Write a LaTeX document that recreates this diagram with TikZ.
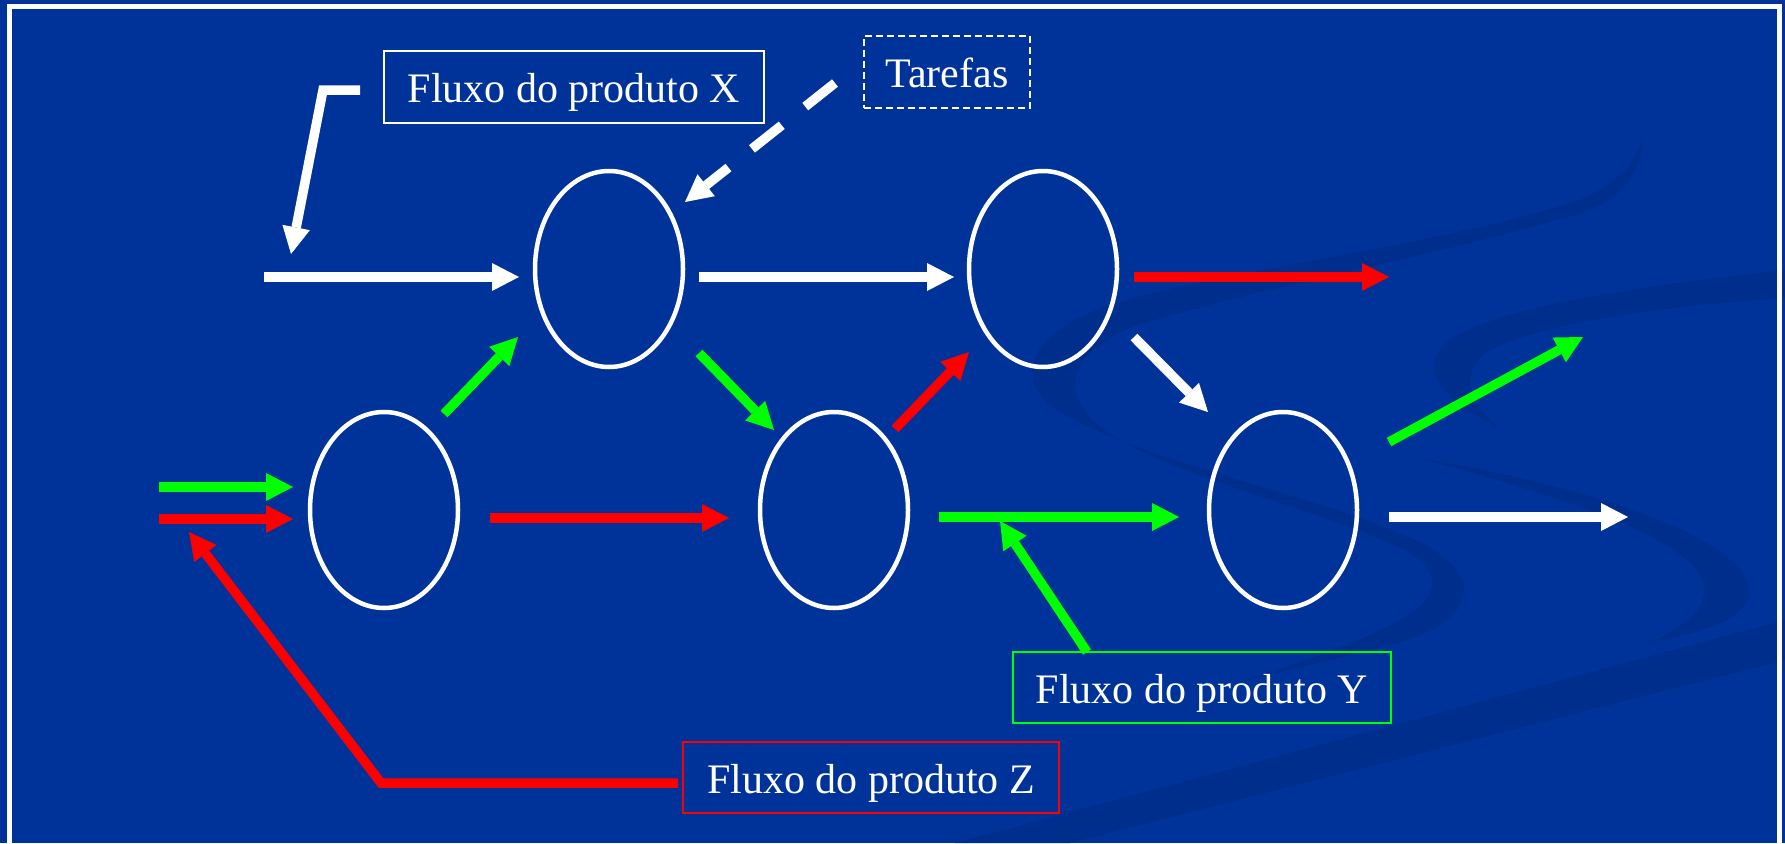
\documentclass[tikz,border=0pt]{standalone}
\usepackage{fontspec}
\setmainfont{Liberation Serif}
\usetikzlibrary{arrows.meta,shapes.geometric}
\definecolor{bgblue}{RGB}{0,51,153}
\definecolor{swoosh}{RGB}{0,46,141}
\definecolor{flowgreen}{RGB}{0,255,0}
\definecolor{flowred}{RGB}{255,0,0}
\begin{document}
\begin{tikzpicture}[x=1pt,y=-1pt,
  station/.style={draw=white, line width=4.5pt, ellipse, minimum width=148pt, minimum height=196pt, inner sep=0pt},
  flow/.style={line width=9.5pt, line join=miter, -{Triangle[length=27pt,width=28pt,line width=0pt]}},
  callout/.style={text=white, font=\fontsize{42}{48}\selectfont, line width=2pt, inner sep=0pt, text height=40pt, text depth=9pt, align=center}
]
\useasboundingbox (0,0) rectangle (1785,843);
\clip (0,0) rectangle (1785,843);
% background
\fill[bgblue] (0,0) rectangle (1785,843);
% decorative swooshes
\fill[swoosh] (1622,75) .. controls (1660,130) and (1645,170) .. (1580,200)
  .. controls (1420,250) and (1220,270) .. (1110,305)
  .. controls (1020,335) and (1015,385) .. (1060,412)
  .. controls (1150,465) and (1340,500) .. (1425,545)
  .. controls (1490,580) and (1470,625) .. (1390,645)
  .. controls (1330,660) and (1280,672) .. (1230,685)
  .. controls (1290,665) and (1340,650) .. (1385,628)
  .. controls (1445,600) and (1445,570) .. (1400,548)
  .. controls (1310,505) and (1150,472) .. (1095,422)
  .. controls (1060,390) and (1070,352) .. (1135,326)
  .. controls (1260,287) and (1430,258) .. (1585,212)
  .. controls (1645,190) and (1660,130) .. (1622,75) -- cycle;
\fill[swoosh] (1785,270) .. controls (1650,285) and (1500,305) .. (1450,340)
  .. controls (1415,365) and (1440,400) .. (1500,428)
  .. controls (1465,400) and (1460,370) .. (1490,350)
  .. controls (1550,320) and (1680,305) .. (1785,298) -- cycle;
\fill[swoosh] (1420,458) .. controls (1550,480) and (1700,520) .. (1740,570)
  .. controls (1770,610) and (1720,630) .. (1650,642)
  .. controls (1690,625) and (1720,600) .. (1695,568)
  .. controls (1655,525) and (1550,495) .. (1420,458) -- cycle;
\fill[swoosh] (955,843) -- (1785,620) -- (1785,660) -- (1070,843) -- cycle;
% frame
\draw[white, line width=5pt] (9,7) rectangle (1779,880);

% stations
\node[station] (A) at (609,269) {};
\node[station] (B) at (1043,269) {};
\node[station] (C) at (384,510) {};
\node[station] (D) at (834,510) {};
\node[station] (E) at (1283,510) {};

% labels
\node[callout, draw=white, minimum width=380pt, minimum height=72pt] (lx) at (574,87) {Fluxo do produto X};
\node[callout, draw=white, dash pattern=on 7pt off 4pt, minimum width=166pt, minimum height=72pt] (lt) at (947,72) {Tarefas};
\node[callout, draw=flowgreen, minimum width=378pt, minimum height=71pt] (ly) at (1202,687.5) {Fluxo do produto Y};
\node[callout, draw=flowred, minimum width=376pt, minimum height=71pt] (lz) at (871,777.5) {Fluxo do produto Z};

% connector end points
\coordinate (xs) at (264,277);   \coordinate (xa) at (519,277);
\coordinate (ab0) at (699,277);  \coordinate (ab1) at (954,277);
\coordinate (bo0) at (1134,277); \coordinate (bo1) at (1389,277);
\coordinate (gs) at (159,487);   \coordinate (gc) at (293,487);
\coordinate (rs) at (159,519);   \coordinate (rc) at (293,519);
\coordinate (cd0) at (490,518);  \coordinate (cd1) at (729,518);
\coordinate (de0) at (939,517);  \coordinate (de1) at (1179,517);
\coordinate (eo0) at (1389,517); \coordinate (eo1) at (1628,517);
\coordinate (ca0) at (444,414);  \coordinate (ca1) at (518,337);
\coordinate (ad0) at (699,353);  \coordinate (ad1) at (774,430);
\coordinate (db0) at (895,429);  \coordinate (db1) at (969,352);
\coordinate (be0) at (1134,337); \coordinate (be1) at (1208,412);
\coordinate (eg0) at (1389,442); \coordinate (eg1) at (1583,337);
% callout leader points
\coordinate (lx0) at (360,90);  \coordinate (lxk) at (323,90);  \coordinate (lx1) at (291,254);
\coordinate (lt0) at (835,83);  \coordinate (lt1) at (685,202);
\coordinate (ly0) at (1087,652); \coordinate (ly1) at (1000,521);
\coordinate (lz0) at (678,783); \coordinate (lzk) at (381,783); \coordinate (lz1) at (189,532);

% flows
\draw[flow, white] (xs) -- (xa);
\draw[flow, white] (ab0) -- (ab1);
\draw[flow, flowred] (bo0) -- (bo1);
\draw[flow, flowgreen] (gs) -- (gc);
\draw[flow, flowred] (rs) -- (rc);
\draw[flow, flowred] (cd0) -- (cd1);
\draw[flow, flowgreen] (de0) -- (de1);
\draw[flow, white] (eo0) -- (eo1);
\draw[flow, flowgreen] (ca0) -- (ca1);
\draw[flow, flowgreen] (ad0) -- (ad1);
\draw[flow, flowred] (db0) -- (db1);
\draw[flow, white] (be0) -- (be1);
\draw[flow, flowgreen] (eg0) -- (eg1);

% callout leaders
\draw[flow, white] (lx0) -- (lxk) -- (lx1);
\draw[flow, white, dash pattern=on 38pt off 30pt] (lt0) -- (lt1);
\draw[flow, flowgreen] (ly0) -- (ly1);
\draw[flow, flowred] (lz0) -- (lzk) -- (lz1);
\end{tikzpicture}
\end{document}
